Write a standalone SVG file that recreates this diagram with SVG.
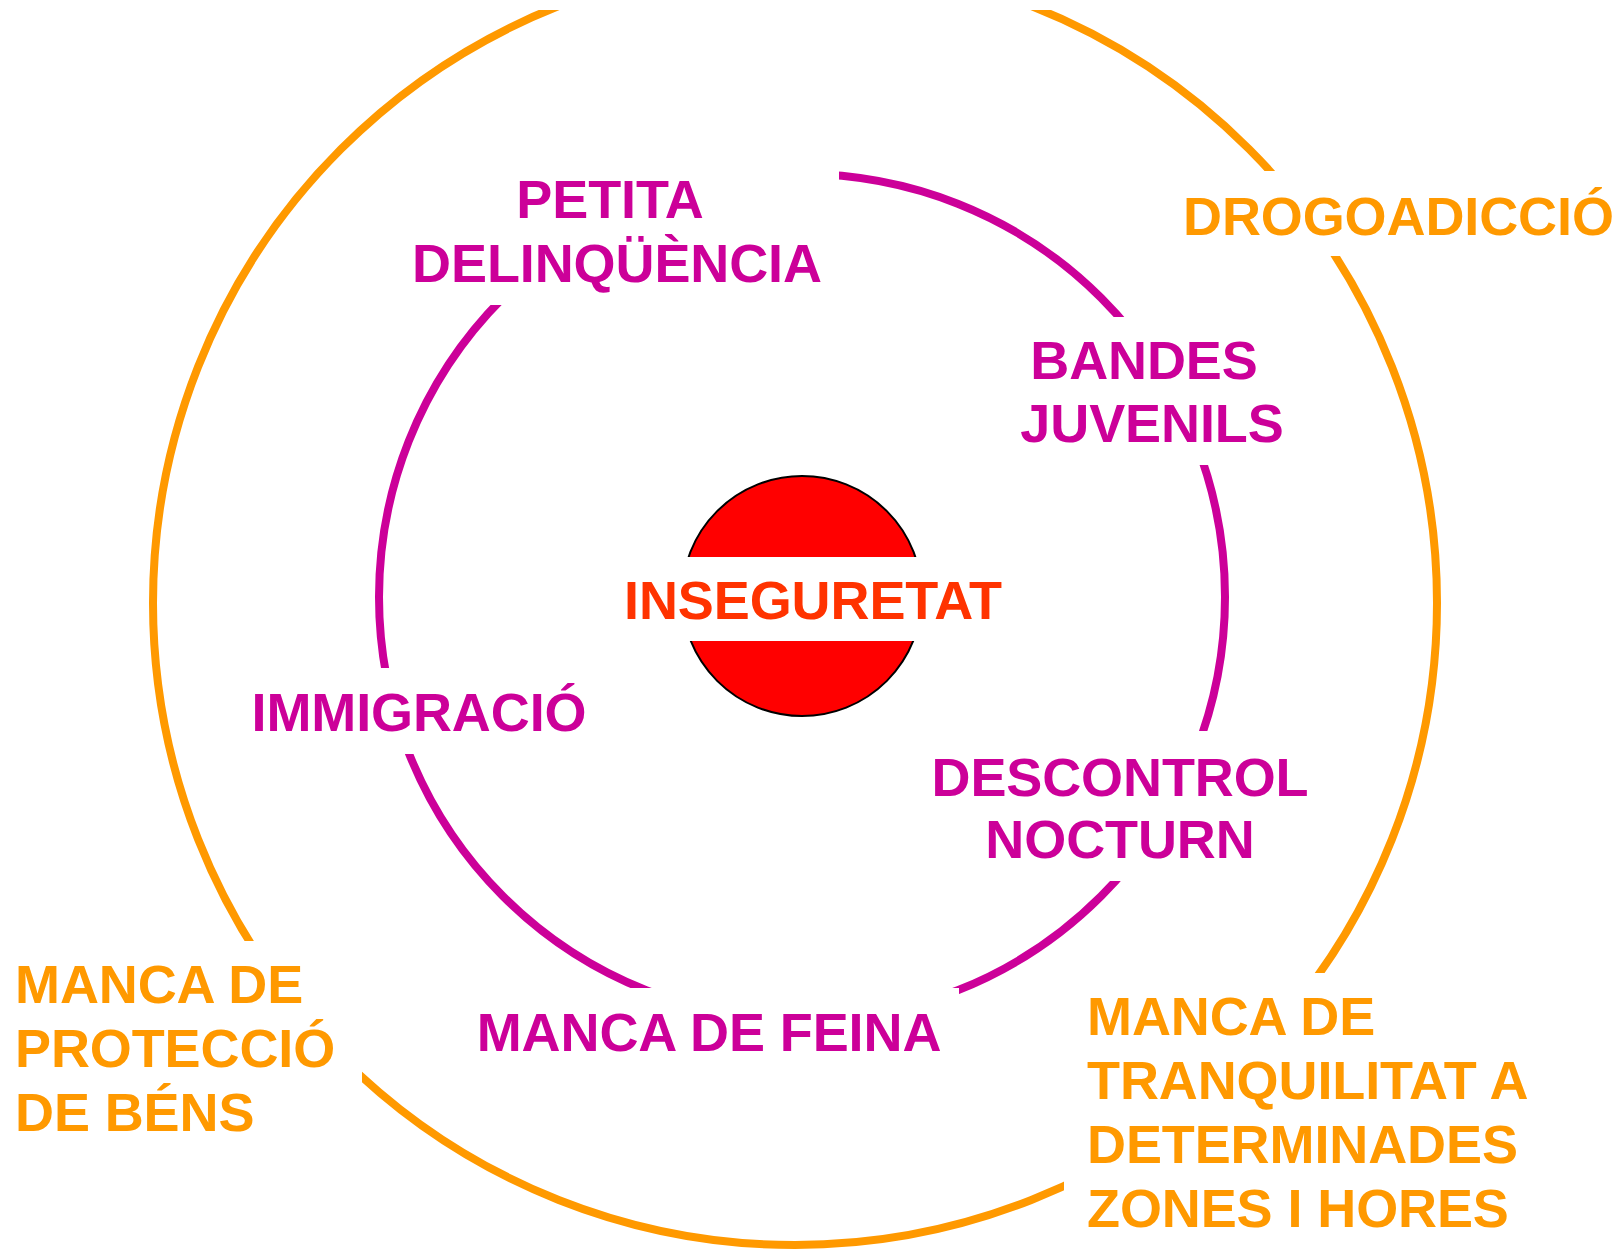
<svg xmlns="http://www.w3.org/2000/svg" width="1620" height="1250" viewBox="0 0 1620 1250">
<style>
.lbl{font-family:"Liberation Sans",Arial,sans-serif;font-weight:bold;font-size:54px;letter-spacing:-0.1px}
.mag{fill:#CC0099}
.org{fill:#FF9900}
.mid{text-anchor:middle}
.bg{fill:#FFFFFF}
.ring{fill:none;stroke-width:8}
</style>
<rect x="0" y="0" width="1620" height="1250" fill="#FFFFFF"/>
<g id="connectors">
<circle class="ring" cx="795" cy="603" r="642" stroke="#FF9900"/>
<circle class="ring" cx="802" cy="597" r="423" stroke="#CC0099"/>
<rect class="bg" x="0" y="0" width="1620" height="10"/>
</g>
<g id="center">
<circle cx="802" cy="596" r="120" fill="#FF0000" stroke="#000000" stroke-width="2"/>
<rect class="bg" x="670" y="557" width="270" height="84"/>
<text class="lbl mid" x="813" y="619" fill="#FF3300">INSEGURETAT</text>
</g>
<g id="petita-delinquencia">
<rect class="bg" x="400" y="150" width="439" height="155"/>
<text class="lbl mag mid" x="610" y="218">PETITA</text>
<text class="lbl mag mid" x="617" y="282">DELINQÜÈNCIA</text>
</g>
<g id="bandes-juvenils">
<rect class="bg" x="1000" y="317" width="300" height="148"/>
<text class="lbl mag mid" x="1144" y="379">BANDES</text>
<text class="lbl mag mid" x="1152" y="442">JUVENILS</text>
</g>
<g id="descontrol-nocturn">
<rect class="bg" x="900" y="731" width="420" height="150"/>
<text class="lbl mag mid" x="1120" y="796">DESCONTROL</text>
<text class="lbl mag mid" x="1120" y="858">NOCTURN</text>
</g>
<g id="manca-feina">
<rect class="bg" x="460" y="988" width="499" height="90"/>
<text class="lbl mag mid" x="709" y="1051">MANCA DE FEINA</text>
</g>
<g id="immigracio">
<rect class="bg" x="240" y="668" width="360" height="86"/>
<text class="lbl mag mid" x="419" y="731">IMMIGRACIÓ</text>
</g>
<g id="drogoadiccio">
<rect class="bg" x="1180" y="171" width="440" height="85"/>
<text class="lbl org" x="1183" y="235">DROGOADICCIÓ</text>
</g>
<g id="manca-proteccio">
<rect class="bg" x="0" y="941" width="362" height="309"/>
<text class="lbl org" x="15" y="1003">MANCA DE</text>
<text class="lbl org" x="15" y="1067">PROTECCIÓ</text>
<text class="lbl org" x="15" y="1131">DE BÉNS</text>
</g>
<g id="manca-tranquilitat">
<rect class="bg" x="1064" y="973" width="556" height="277"/>
<text class="lbl org" x="1087" y="1035">MANCA DE</text>
<text class="lbl org" x="1087" y="1099">TRANQUILITAT A</text>
<text class="lbl org" x="1087" y="1163">DETERMINADES</text>
<text class="lbl org" x="1087" y="1227">ZONES I HORES</text>
</g>
</svg>
